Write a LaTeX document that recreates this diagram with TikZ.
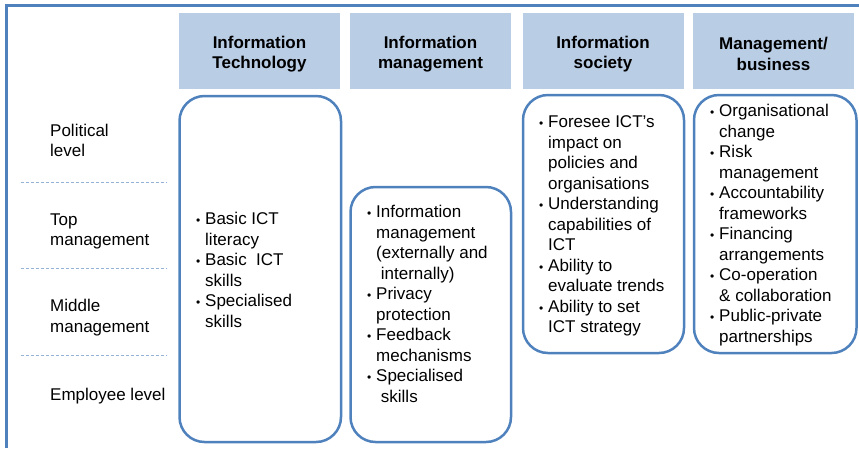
\documentclass[tikz,border=0pt]{standalone}
\usepackage{fontspec}
\setmainfont{Liberation Sans}
\definecolor{hdrfill}{HTML}{B9CDE5}
\definecolor{frm}{HTML}{4F81BD}
\definecolor{dsh}{HTML}{95B3D7}
\newcommand{\fl}{\rule{0pt}{13pt}}
\newcommand{\bi}[1]{\makebox[9pt][l]{{\fontsize{12}{12}\selectfont\textbullet}}#1}
\newcommand{\ci}[1]{\hspace*{9pt}#1}
\tikzset{
  hdr/.style={fill=hdrfill, draw=none, inner sep=0, minimum width=161pt, minimum height=76pt},
  hdrtxt/.style={font=\fontsize{17}{20.5}\selectfont\bfseries, align=center, inner sep=0, yshift=-3pt},
  sbox/.style={draw=frm, line width=2.5pt, rounded corners=25pt, inner sep=0},
  txt/.style={font=\fontsize{17}{20.5}\selectfont, align=left, inner sep=0, anchor=north west},
  frame/.style={draw=frm, line width=2.5pt},
  sep/.style={draw=dsh, line width=0.9pt, dash pattern=on 3pt off 2pt}
}
\begin{document}
\begin{tikzpicture}[x=1pt,y=-1pt]
\useasboundingbox (0,0) rectangle (859,448);
% frame
\draw[frame] (6.5,448) -- (6.5,5.5) -- (859,5.5);
% headers
\node[hdr] (h1) at (259.5,51) {};
\node[hdr] (h2) at (430.5,51) {};
\node[hdr] (h3) at (603,51) {};
\node[hdr] (h4) at (773.5,51) {};
\node[hdrtxt] (h1t) at (h1.center) {Information\\Technology};
\node[hdrtxt] (h2t) at (h2.center) {Information\\management};
\node[hdrtxt] (h3t) at (h3.center) {Information\\society};
\node[hdrtxt] (h4t) at (h4.center) {Management/\\business};
% level labels
\node[txt] (l1) at (50,123) {\fl Political\\level};
\node[txt] (l2) at (50,212) {\fl Top\\management};
\node[txt] (l3) at (50,298.7) {\fl Middle\\management};
\node[txt] (l4) at (50,387) {\fl Employee level};
\draw[sep] (20.5,182.5) -- (166,182.5);
\draw[sep] (20.5,268.5) -- (166,268.5);
\draw[sep] (20.5,355.5) -- (166,355.5);
% boxes
\node[sbox, minimum width=161.5pt, minimum height=346pt] (b1) at (260.25,269) {};
\node[sbox, minimum width=160.5pt, minimum height=255pt] (b2) at (430.75,314.5) {};
\node[sbox, minimum width=161pt, minimum height=258pt] (b3) at (603.5,224) {};
\node[sbox, minimum width=162.5pt, minimum height=258pt] (b4) at (775.25,224) {};
% box texts
\node[txt] (t1) at (196,211.3) {\fl\bi{Basic ICT}\\\ci{literacy}\\\bi{Basic\ \ ICT}\\\ci{skills}\\\bi{Specialised}\\\ci{skills}};
\node[txt] (t2) at (367,204.7) {\fl\bi{Information}\\\ci{management}\\\ci{(externally and}\\\ci{\ internally)}\\\bi{Privacy}\\\ci{protection}\\\bi{Feedback}\\\ci{mechanisms}\\\bi{Specialised}\\\ci{\ skills}};
\node[txt] (t3) at (539,114.3) {\fl\bi{Foresee ICT’s}\\\ci{impact on}\\\ci{policies and}\\\ci{organisations}\\\bi{Understanding}\\\ci{capabilities of}\\\ci{ICT}\\\bi{Ability to}\\\ci{evaluate trends}\\\bi{Ability to set}\\\ci{ICT strategy}};
\node[txt] (t4) at (710,103.7) {\fl\bi{Organisational}\\\ci{change}\\\bi{Risk}\\\ci{management}\\\bi{Accountability}\\\ci{frameworks}\\\bi{Financing}\\\ci{arrangements}\\\bi{Co-operation}\\\ci{\& collaboration}\\\bi{Public-private}\\\ci{partnerships}};
\end{tikzpicture}
\end{document}
